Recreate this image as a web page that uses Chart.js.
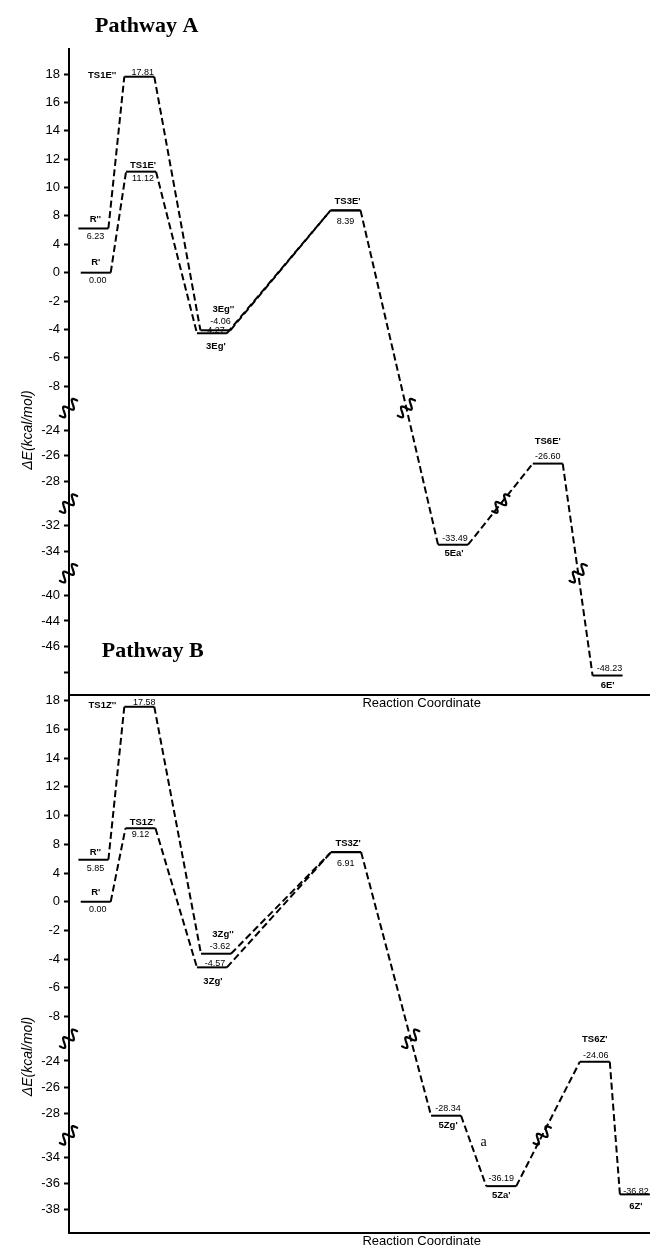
<!DOCTYPE html>
<html>
<head>
<meta charset="utf-8">
<script src="https://cdn.jsdelivr.net/npm/chart.js@4.4.1/dist/chart.umd.min.js"></script>
<style>
  html, body { margin: 0; padding: 0; background: #fff; }
  #wrap { position: relative; width: 650px; height: 1246px; overflow: hidden; background: #fff; }
  #wrap canvas { position: absolute; left: 0; }
</style>
</head>
<body>
<div id="wrap">
  <canvas id="chartA" width="650" height="720" style="top:0px"></canvas>
  <canvas id="chartB" width="650" height="616" style="top:630px"></canvas>
</div>
<script>
// ---------------- Pathway A ----------------
const namesA1 = ["R'", "TS1E'", "3Eg'", "TS3E'", "5Ea'", "TS6E'", "6E'"];
const energyA1 = [0.00, 11.12, -4.27, 8.39, -33.49, -26.60, -48.23];
const coordA1 = [4.6, 12.4, 24.6, 47.6, 66.1, 82.4, 92.7];

const namesA2 = ["R''", "TS1E''", "3Eg''", null];
const energyA2 = [6.23, 17.81, -4.06, 8.39];
const coordA2 = [4.2, 12.1, 25.2, 47.6];

// tick values of each unbroken stretch of the energy axis
const ticksA = [
  [18, 16, 14, 12, 10, 8, 4, 0, -2, -4, -6, -8],
  [-24, -26, -28],
  [-32, -34],
  [-40, -44, -46, -48]
];
const blankTicksA = [-48];

// ---------------- Pathway B ----------------
const namesB1 = ["R'", "TS1Z'", "3Zg'", "TS3Z'", "5Zg'", "5Za'", "TS6Z'", "6Z'"];
const energyB1 = [0.00, 9.12, -4.57, 6.91, -28.34, -36.19, -24.06, -36.82];
const coordB1 = [4.6, 12.3, 24.6, 47.7, 64.9, 74.4, 90.5, 97.4];

const namesB2 = ["R''", "TS1Z''", "3Zg''", null];
const energyB2 = [5.85, 17.58, -3.62, 6.91];
const coordB2 = [4.2, 12.1, 25.3, 47.7];

const ticksB = [
  [18, 16, 14, 12, 10, 8, 4, 0, -2, -4, -6, -8],
  [-24, -26, -28],
  [-34, -36, -38]
];
const blankTicksB = [];

// ---------------- layout ----------------
const HALF_WIDTH = 2.58;          // half length of an energy level, in reaction-coordinate units
const DASH = [7, 3.5];
const SANS = "'Liberation Sans', Arial, Helvetica, sans-serif";
const SERIF = "'Liberation Serif', 'Times New Roman', serif";
const NAME_FONT = "bold 9.5px " + SANS;
const VALUE_FONT = "9px " + SANS;

// label offsets (px): n = species name, v = energy value; left = gap when the name sits left of the level
const layoutA1 = [
  { n: [0, -10.5], v: [2, 7.6] },
  { n: [2, -6.6], v: [2, 6.7] },
  { n: [4, 12.7], v: [2.5, -3.2] },
  { n: [2, -9], v: [0, 11] },
  { n: [1, 9], v: [2, -6.7] },
  { n: [0, -22], v: [0, -7.3] },
  { n: [0, 10], v: [2, -6.6] }
];
const layoutA2 = [
  { n: [2, -9], v: [2, 7.7] },
  { left: 8, n: [0, -1], v: [3.5, -4.4] },
  { n: [8, -21], v: [5, -8.5] },
  null
];
const layoutB1 = [
  { n: [0, -9.3], v: [2, 8] },
  { n: [2, -6.3], v: [0, 6.7] },
  { n: [1, 14.4], v: [3, -4] },
  { n: [2, -9], v: [-0.5, 11] },
  { n: [2, 9.3], v: [2, -6.7] },
  { n: [0, 9.3], v: [0, -7.4] },
  { n: [0, -22.7], v: [1, -6.7] },
  { n: [1, 12.3], v: [1, -3.3] }
];
const layoutB2 = [
  { n: [2, -7.6], v: [2, 8.4] },
  { left: 8, n: [0, -1], v: [5, -4.3] },
  { n: [7, -19], v: [4, -6.7] },
  null
];

// Broken energy axis: ticks are evenly spaced inside each stretch,
// stretches are separated by a gap, values are interpolated between ticks.
function registerBrokenScale(id, segments, cfg) {
  const anchors = [];
  const breakUnits = [];
  let u = 0;
  segments.forEach((seg, s) => {
    const step = s === 0 ? cfg.firstStep : cfg.step;
    seg.forEach((v, j) => {
      if (j > 0) u += step;
      else if (s > 0) { breakUnits.push(u + cfg.breakGap / 2); u += cfg.breakGap; }
      anchors.push({ value: v, u: u });
    });
  });
  const uMin = -cfg.padTop;
  const uMax = u + cfg.padBottom;

  function toUnits(v) {
    const n = anchors.length;
    let i = 0;
    if (v >= anchors[0].value) i = 0;
    else if (v <= anchors[n - 1].value) i = n - 2;
    else { while (i < n - 2 && !(v <= anchors[i].value && v >= anchors[i + 1].value)) i++; }
    const a = anchors[i], b = anchors[i + 1];
    return a.u + (a.value - v) / (a.value - b.value) * (b.u - a.u);
  }
  function fromUnits(x) {
    const n = anchors.length;
    let i = 0;
    if (x <= anchors[0].u) i = 0;
    else if (x >= anchors[n - 1].u) i = n - 2;
    else { while (i < n - 2 && !(x >= anchors[i].u && x <= anchors[i + 1].u)) i++; }
    const a = anchors[i], b = anchors[i + 1];
    return a.value + (x - a.u) / (b.u - a.u) * (b.value - a.value);
  }

  class BrokenScale extends Chart.LinearScale {
    determineDataLimits() {
      const vals = anchors.map(a => a.value);
      this.min = Math.min(...vals);
      this.max = Math.max(...vals);
    }
    buildTicks() {
      return anchors.map(a => ({ value: a.value }));
    }
    getPixelForValue(v) {
      return this.getPixelForDecimal((uMax - toUnits(v)) / (uMax - uMin));
    }
    getValueForPixel(p) {
      const d = this.getDecimalForPixel(p);
      return fromUnits(uMax - d * (uMax - uMin));
    }
    breakPixels() {
      return breakUnits.map(b => this.getPixelForDecimal((uMax - b) / (uMax - uMin)));
    }
  }
  BrokenScale.id = id;
  BrokenScale.defaults = {};
  Chart.register(BrokenScale);
  return id;
}

function levelPoints(coords, energies) {
  const pts = [];
  coords.forEach((x, i) => {
    pts.push({ x: x - HALF_WIDTH, y: energies[i] });
    pts.push({ x: x + HALF_WIDTH, y: energies[i] });
  });
  return pts;
}

// curly break mark
function squiggle(ctx, x, y) {
  ctx.save();
  ctx.translate(x, y);
  ctx.rotate(-0.72);
  ctx.beginPath();
  const len = 11.5, amp = 4.4;
  for (let i = 0; i <= 60; i++) {
    const t = -len + 2 * len * i / 60;
    const o = amp * Math.sin(t / len * 2 * Math.PI);
    if (i === 0) ctx.moveTo(t, o); else ctx.lineTo(t, o);
  }
  ctx.lineWidth = 2.2;
  ctx.lineCap = 'round';
  ctx.lineJoin = 'round';
  ctx.strokeStyle = '#000';
  ctx.stroke();
  ctx.restore();
}

function decorPlugin(p) {
  return {
    id: 'decor' + p.key,
    afterDatasetsDraw(chart) {
      const ctx = chart.ctx;
      const area = chart.chartArea;
      const yScale = chart.scales.y;
      const breaks = yScale.breakPixels();
      ctx.save();
      ctx.fillStyle = '#000';
      ctx.textBaseline = 'middle';

      // species names and energies
      p.series.forEach((s, si) => {
        const pts = chart.getDatasetMeta(si).data;
        s.names.forEach((name, k) => {
          const L = s.layout[k];
          if (name === null || !L) return;
          const a = pts[2 * k], b = pts[2 * k + 1];
          const cx = (a.x + b.x) / 2, cy = a.y;
          ctx.font = NAME_FONT;
          if (L.left) {
            ctx.textAlign = 'right';
            ctx.fillText(name, a.x - L.left, cy + L.n[1]);
          } else {
            ctx.textAlign = 'center';
            ctx.fillText(name, cx + L.n[0], cy + L.n[1]);
          }
          ctx.font = VALUE_FONT;
          ctx.textAlign = 'center';
          ctx.fillText(s.energy[k].toFixed(2), cx + L.v[0], cy + L.v[1]);
        });
      });

      // axis break marks
      breaks.forEach(py => squiggle(ctx, area.left - 0.5, py));

      // break marks on connectors that cross an axis break
      const main = chart.getDatasetMeta(0).data;
      p.lineBreaks.forEach(lb => {
        const a = main[2 * lb.from + 1], b = main[2 * lb.from + 2];
        const py = breaks[lb.brk];
        const t = (py - a.y) / (b.y - a.y);
        squiggle(ctx, a.x + t * (b.x - a.x), py);
      });

      // step annotation
      (p.notes || []).forEach(nt => {
        const a = main[2 * nt.from + 1], b = main[2 * nt.from + 2];
        ctx.font = "14px " + SERIF;
        ctx.textAlign = 'center';
        ctx.fillText(nt.text, (a.x + b.x) / 2 + nt.dx, (a.y + b.y) / 2 + nt.dy);
      });
      ctx.restore();
    },
    afterDraw(chart) {
      const ctx = chart.ctx;
      const area = chart.chartArea;
      ctx.save();
      ctx.fillStyle = '#000';
      // panel title
      ctx.font = "bold 22px " + SERIF;
      ctx.textAlign = 'left';
      ctx.textBaseline = 'alphabetic';
      ctx.fillText(p.title, area.left + p.titleDx, area.top + p.titleDy);
      // x axis title
      ctx.font = "13px " + SANS;
      ctx.textAlign = 'center';
      ctx.textBaseline = 'middle';
      ctx.fillText('Reaction Coordinate', area.left + 0.607 * (area.right - area.left), area.bottom + 8.5);
      // y axis title
      ctx.translate(28, area.top + p.yTitleFrac * (area.bottom - area.top));
      ctx.rotate(-Math.PI / 2);
      ctx.font = "italic 14px " + SANS;
      ctx.fillText('\u0394E(kcal/mol)', 0, 0);
      ctx.restore();
    }
  };
}

Chart.defaults.color = '#000';
Chart.defaults.font.family = SANS;

function buildPanel(canvasId, p) {
  const scaleType = registerBrokenScale('broken' + p.key, p.ticks, p.axis);
  const datasets = p.series.map(s => ({
    data: levelPoints(s.coord, s.energy),
    borderColor: '#000',
    borderWidth: 2,
    borderCapStyle: 'butt',
    pointRadius: 0,
    tension: 0,
    fill: false,
    segment: { borderDash: c => (c.p0DataIndex % 2 ? DASH : undefined) }
  }));
  return new Chart(document.getElementById(canvasId), {
    type: 'line',
    data: { datasets },
    options: {
      responsive: false,
      animation: false,
      devicePixelRatio: 1,
      events: [],
      layout: { padding: { top: p.padTop, bottom: p.padBottom, left: 0, right: 0 } },
      plugins: { legend: { display: false }, tooltip: { enabled: false }, title: { display: false } },
      scales: {
        x: {
          type: 'linear', min: 0, max: 100,
          ticks: { display: false },
          grid: { display: true, drawOnChartArea: false, drawTicks: false },
          border: { display: true, color: '#000', width: 2 },
          afterFit: s => { s.height = 0; }
        },
        y: {
          type: scaleType,
          position: 'left',
          afterFit: s => { s.width = 69; },
          ticks: {
            autoSkip: false,
            padding: 4,
            color: '#000',
            font: { family: SANS, size: 13 },
            callback: v => (p.blankTicks.includes(v) ? '' : String(v))
          },
          grid: { drawOnChartArea: false, tickLength: 5, tickWidth: 2, tickColor: '#000', color: '#000' },
          border: { display: true, color: '#000', width: 2 }
        }
      }
    },
    plugins: [decorPlugin(p)]
  });
}

buildPanel('chartA', {
  key: 'A',
  title: 'Pathway A', titleDx: 26, titleDy: -17,
  yTitleFrac: 0.59,
  padTop: 49, padBottom: 25,
  ticks: ticksA, blankTicks: blankTicksA,
  axis: { firstStep: 1.1, step: 1, breakGap: 1.7, padTop: 0.97, padBottom: 0.87 },
  series: [
    { names: namesA1, energy: energyA1, coord: coordA1, layout: layoutA1 },
    { names: namesA2, energy: energyA2, coord: coordA2, layout: layoutA2 }
  ],
  lineBreaks: [{ from: 3, brk: 0 }, { from: 4, brk: 1 }, { from: 5, brk: 2 }]
});

buildPanel('chartB', {
  key: 'B',
  title: 'Pathway B', titleDx: 32.7, titleDy: -38.3,
  yTitleFrac: 0.672,
  padTop: 65, padBottom: 13,
  ticks: ticksB, blankTicks: blankTicksB,
  axis: { firstStep: 1.1, step: 1, breakGap: 1.7, padTop: 0.22, padBottom: 0.89 },
  series: [
    { names: namesB1, energy: energyB1, coord: coordB1, layout: layoutB1 },
    { names: namesB2, energy: energyB2, coord: coordB2, layout: layoutB2 }
  ],
  lineBreaks: [{ from: 3, brk: 0 }, { from: 5, brk: 1 }],
  notes: [{ from: 4, text: 'a', dx: 10, dy: -9 }]
});
</script>
</body>
</html>
